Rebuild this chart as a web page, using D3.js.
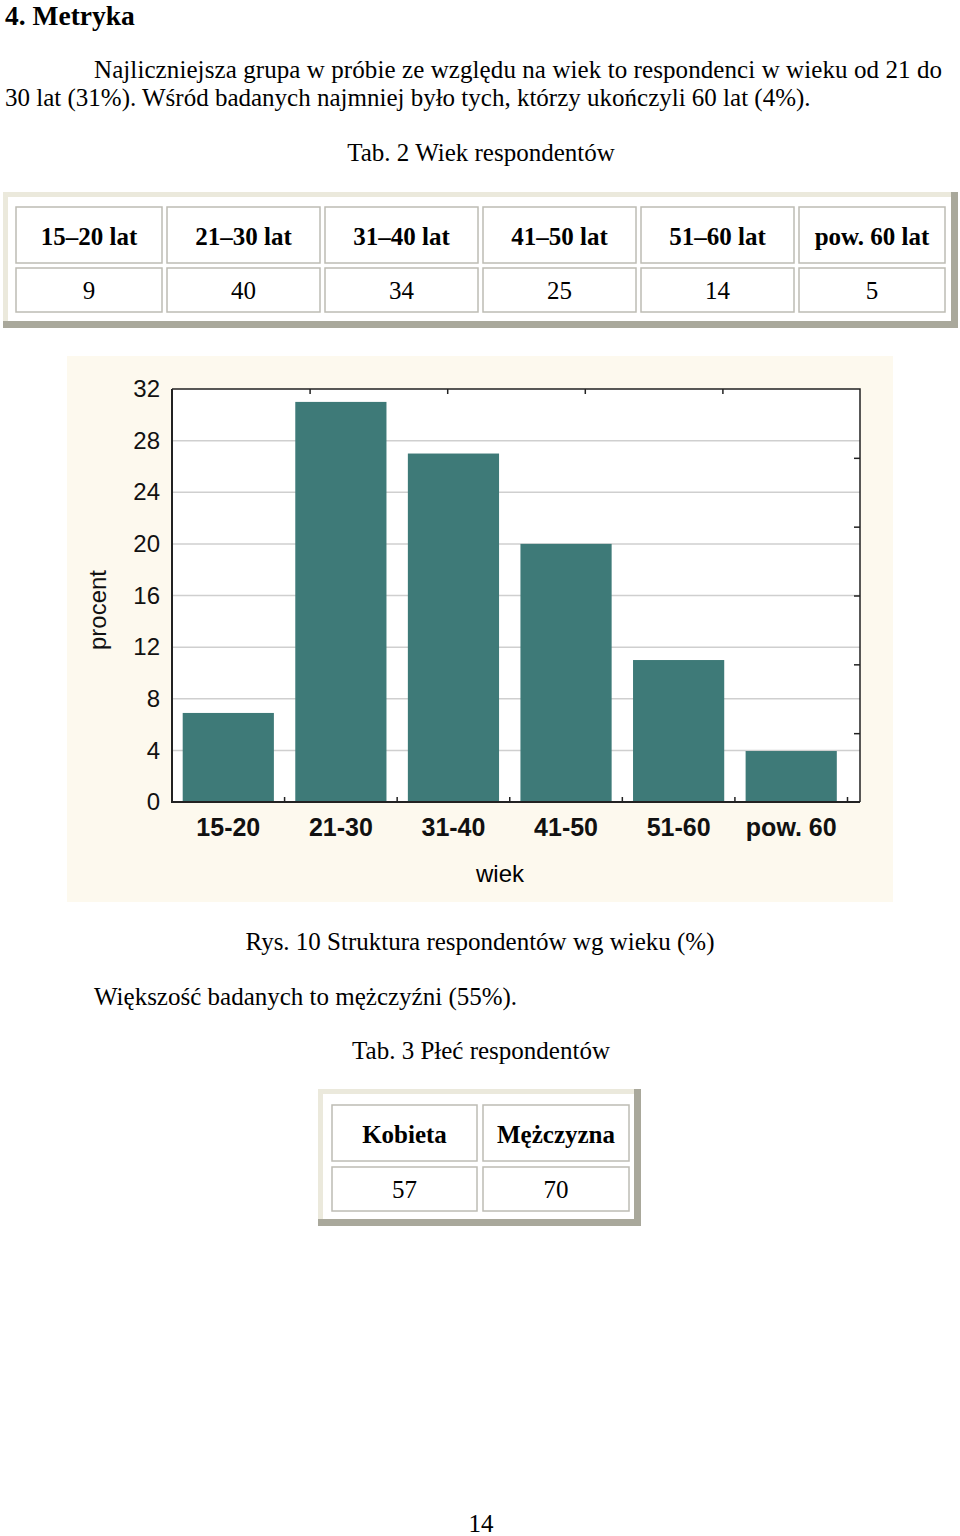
<!DOCTYPE html>
<html>
<head>
<meta charset="utf-8">
<script src="https://cdn.jsdelivr.net/npm/d3@7"></script>
<style>
  body { margin: 0; background: #fff; }
  svg { display: block; }
</style>
</head>
<body>
<svg id="page" width="960" height="1536"></svg>
<script>
'use strict';

// age table (Tab. 2)
var ageHeaders = ["15\u201320 lat", "21\u201330 lat", "31\u201340 lat", "41\u201350 lat", "51\u201360 lat", "pow. 60 lat"];
var ageCounts = [9, 40, 34, 25, 14, 5];

// chart (Rys. 10)
var chartCategories = ["15-20", "21-30", "31-40", "41-50", "51-60", "pow. 60"];
var chartPercent = [6.9, 31.0, 27.0, 20.0, 11.0, 3.95];
var yTicks = [0, 4, 8, 12, 16, 20, 24, 28, 32];

// sex table (Tab. 3)
var sexHeaders = ["Kobieta", "M\u0119\u017Cczyzna"];
var sexCounts = [57, 70];

var serif = "'Liberation Serif', 'Times New Roman', serif";
var sans = "'Liberation Sans', Arial, sans-serif";

var svg = d3.select("#page");

function text(x, y, str, opts) {
    opts = opts || {};
    var t = svg.append("text")
        .attr("x", x)
        .attr("y", y)
        .attr("font-family", opts.family || serif)
        .attr("font-size", opts.size || 25)
        .attr("font-weight", opts.weight || "normal")
        .attr("text-anchor", opts.anchor || "start")
        .attr("fill", "#000")
        .text(str);
    if (opts.length) t.attr("textLength", opts.length).attr("lengthAdjust", "spacing");
    return t;
}

// ---- document text ----
text(5, 25, "4. Metryka", {size: 27.5, weight: "bold"});
text(94, 78, "Najliczniejsza grupa w próbie ze względu na wiek to respondenci w wieku od 21 do", {length: 848});
text(5, 106, "30 lat (31%). Wśród badanych najmniej było tych, którzy ukończyli 60 lat (4%).");
text(481, 161, "Tab. 2 Wiek respondentów", {anchor: "middle"});

// framed table with beige top/left and grey bottom/right edges
function drawTable(frame, cells, headers, values) {
    var g = svg.append("g");
    g.append("rect").attr("x", frame.x).attr("y", frame.y)
        .attr("width", frame.w).attr("height", frame.h).attr("fill", "#a9a89b");
    g.append("rect").attr("x", frame.x).attr("y", frame.y)
        .attr("width", frame.w - 7).attr("height", frame.h - 7).attr("fill", "#ebe9dc");
    g.append("rect").attr("x", frame.x + 5).attr("y", frame.y + 5)
        .attr("width", frame.w - 12).attr("height", frame.h - 12).attr("fill", "#fff");

    var rows = [
        {y: cells.row1, h: cells.h1, data: headers, bold: true, base: cells.base1},
        {y: cells.row2, h: cells.h2, data: values, bold: false, base: cells.base2}
    ];
    rows.forEach(function(row) {
        var cg = g.selectAll(null).data(row.data).enter().append("g");
        cg.append("rect")
            .attr("x", (d, i) => cells.xs[i])
            .attr("y", row.y)
            .attr("width", (d, i) => cells.ws[i])
            .attr("height", row.h)
            .attr("fill", "#fff")
            .attr("stroke", "#bdbcb4")
            .attr("stroke-width", 1.5);
        cg.append("text")
            .attr("x", (d, i) => cells.xs[i] + cells.ws[i] / 2)
            .attr("y", row.base)
            .attr("text-anchor", "middle")
            .attr("font-family", serif)
            .attr("font-size", 25)
            .attr("font-weight", row.bold ? "bold" : "normal")
            .text(d => d);
    });
}

drawTable({x: 3, y: 192, w: 955, h: 136},
    {xs: [16, 167, 325, 483, 641, 799], ws: [146, 153, 153, 153, 153, 146],
     row1: 207, h1: 56, base1: 245, row2: 268, h2: 44, base2: 299},
    ageHeaders, ageCounts);

// ---- chart ----
var chartBg = {x: 67, y: 356, w: 826, h: 546};
svg.append("rect").attr("x", chartBg.x).attr("y", chartBg.y)
    .attr("width", chartBg.w).attr("height", chartBg.h).attr("fill", "#fdf9ee");

var plot = {left: 172, right: 860, top: 389, bottom: 802};
svg.append("rect").attr("x", plot.left).attr("y", plot.top)
    .attr("width", plot.right - plot.left).attr("height", plot.bottom - plot.top)
    .attr("fill", "#fff");

var x = d3.scaleBand()
    .domain(chartCategories)
    .range([plot.left, 847.5])
    .paddingInner(0.19)
    .paddingOuter(0.095);

var y = d3.scaleLinear()
    .domain([0, 32])
    .range([plot.bottom, plot.top]);

// grid lines
svg.append("g").selectAll("line")
    .data(yTicks.filter(d => d > 0 && d < 32))
    .enter().append("line")
    .attr("x1", plot.left).attr("x2", plot.right)
    .attr("y1", d => y(d)).attr("y2", d => y(d))
    .attr("stroke", "#cfcfcf").attr("stroke-width", 1.5);

// bars
svg.append("g").selectAll("rect")
    .data(chartCategories)
    .enter().append("rect")
    .attr("x", d => x(d))
    .attr("y", (d, i) => y(chartPercent[i]))
    .attr("width", x.bandwidth())
    .attr("height", (d, i) => y(0) - y(chartPercent[i]))
    .attr("fill", "#3e7a78");

// left axis labels
var yAxis = d3.axisLeft(y).tickValues(yTicks).tickSize(0).tickPadding(12);
var yg = svg.append("g").attr("transform", "translate(" + plot.left + ",0)").call(yAxis);
yg.select(".domain").remove();
yg.selectAll("text").attr("font-family", sans).attr("font-size", 24).attr("fill", "#111");

// top frame ticks (5 intervals)
var topScale = d3.scaleLinear().domain([0, 5]).range([plot.left, plot.right]);
var tg = svg.append("g").attr("transform", "translate(0," + plot.top + ")")
    .call(d3.axisTop(topScale).tickValues([1, 2, 3, 4]).tickSize(-5).tickFormat(""));
tg.select(".domain").remove();
tg.selectAll("line").attr("stroke", "#222").attr("stroke-width", 1.5);

// right frame ticks (6 intervals)
var rightScale = d3.scaleLinear().domain([0, 6]).range([plot.bottom, plot.top]);
var rg = svg.append("g").attr("transform", "translate(" + plot.right + ",0)")
    .call(d3.axisRight(rightScale).tickValues([1, 2, 3, 4, 5]).tickSize(-6).tickFormat(""));
rg.select(".domain").remove();
rg.selectAll("line").attr("stroke", "#222").attr("stroke-width", 1.5);

// bottom ticks between categories
svg.append("g").selectAll("line")
    .data(chartCategories)
    .enter().append("line")
    .attr("x1", d => x(d) + x.bandwidth() + x.step() * x.paddingInner() / 2)
    .attr("x2", d => x(d) + x.bandwidth() + x.step() * x.paddingInner() / 2)
    .attr("y1", plot.bottom).attr("y2", plot.bottom - 5)
    .attr("stroke", "#222").attr("stroke-width", 1.5);

// frame
svg.append("path")
    .attr("d", "M" + plot.left + "," + plot.top + "H" + plot.right + "V" + plot.bottom)
    .attr("fill", "none").attr("stroke", "#222").attr("stroke-width", 1.5);
svg.append("path")
    .attr("d", "M" + plot.left + "," + plot.top + "V" + plot.bottom + "H" + plot.right)
    .attr("fill", "none").attr("stroke", "#222").attr("stroke-width", 2);

// category labels
var xAxis = d3.axisBottom(x).tickSize(0).tickPadding(16);
var xg = svg.append("g").attr("transform", "translate(0," + plot.bottom + ")").call(xAxis);
xg.select(".domain").remove();
xg.selectAll("text").attr("font-family", sans).attr("font-size", 25)
    .attr("font-weight", "bold").attr("fill", "#111");

text(500, 882, "wiek", {family: sans, size: 24, anchor: "middle"});
svg.append("text")
    .attr("transform", "translate(106,610) rotate(-90)")
    .attr("text-anchor", "middle")
    .attr("font-family", sans)
    .attr("font-size", 24)
    .attr("fill", "#111")
    .text("procent");

// ---- lower text ----
text(480, 950, "Rys. 10 Struktura respondentów wg wieku (%)", {anchor: "middle"});
text(94, 1005, "Większość badanych to mężczyźni (55%).");
text(481, 1059, "Tab. 3 Płeć respondentów", {anchor: "middle"});

drawTable({x: 318, y: 1089, w: 323, h: 137},
    {xs: [332, 483], ws: [145, 146],
     row1: 1105, h1: 56, base1: 1143, row2: 1167, h2: 44, base2: 1198},
    sexHeaders, sexCounts);

text(481, 1532, "14", {anchor: "middle"});
</script>
</body>
</html>
